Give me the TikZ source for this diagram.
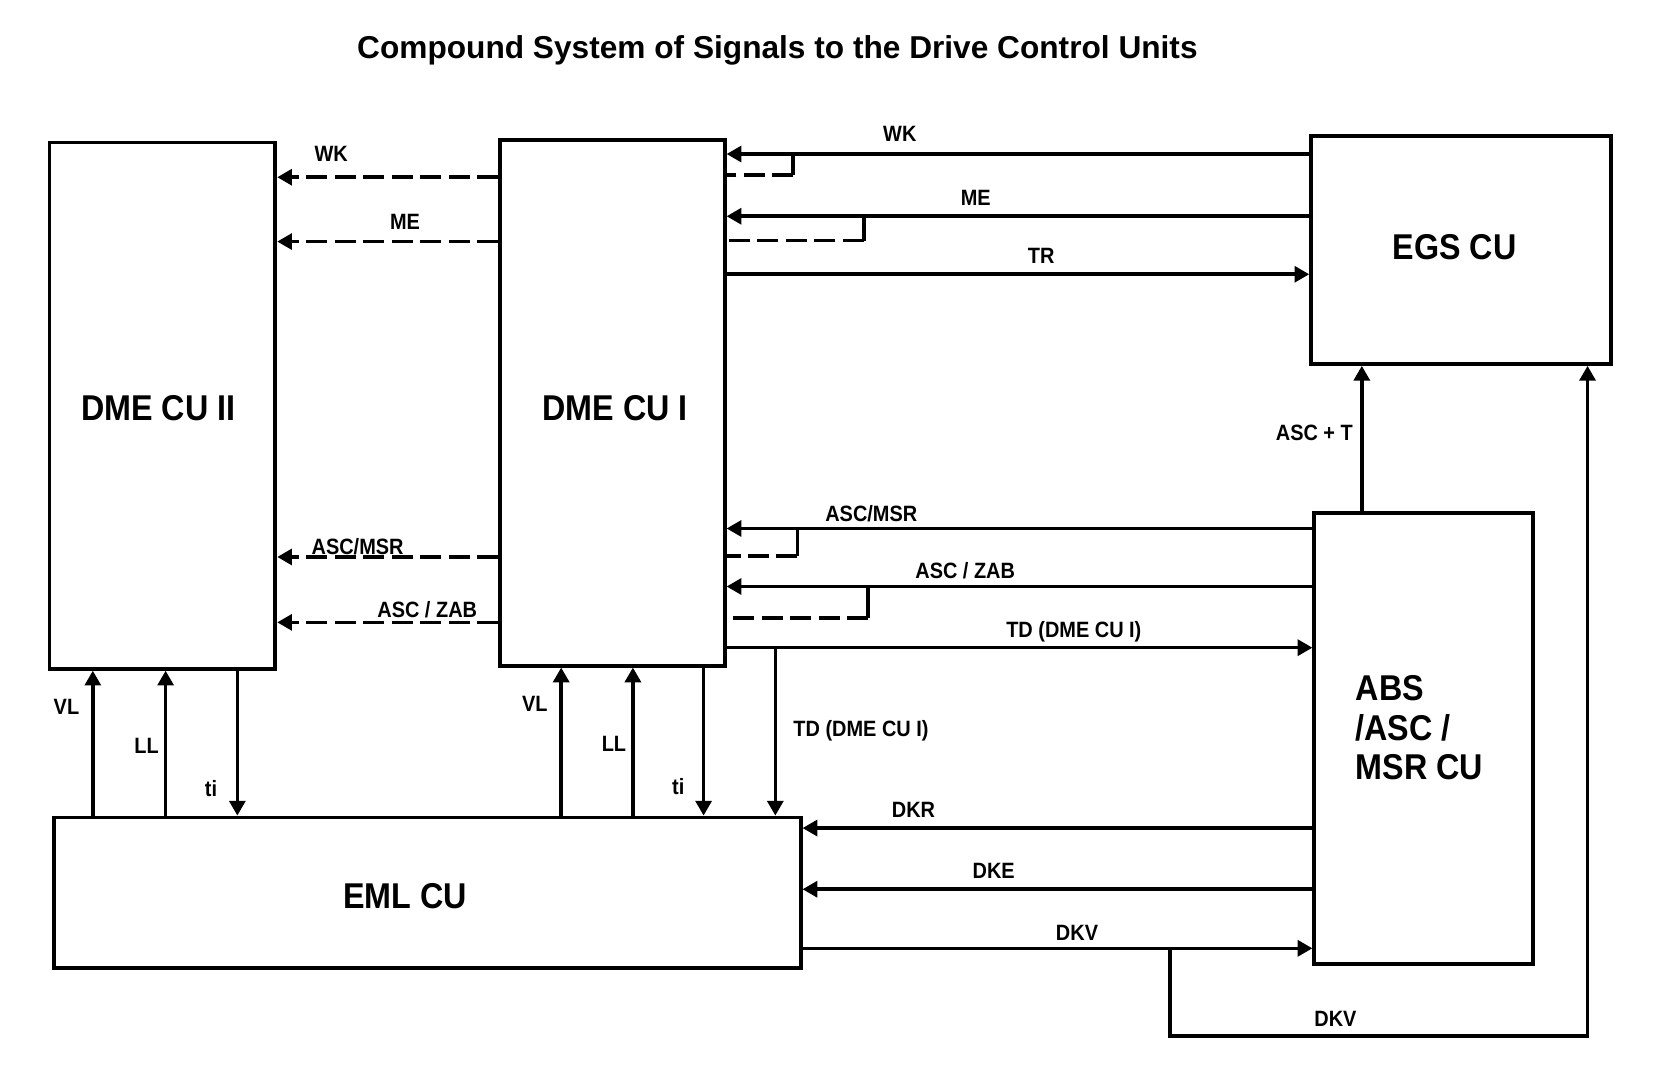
\documentclass[tikz,border=0pt]{standalone}
\usepackage{fontspec}
\setmainfont{Liberation Sans}[FakeStretch=0.9]
\newfontfamily\titlefam{Liberation Sans}
\usetikzlibrary{arrows.meta}
\tikzset{
  box/.style={draw, line width=3.6pt, inner sep=0pt, font=\fontsize{34}{37}\selectfont\bfseries},
  ln/.style={line width=3.4pt},
  tip/.style={-{Triangle[length=14pt,width=15pt]}},
  arr/.style={ln, tip},
  dln/.style={ln, dash pattern=on 20pt off 7pt},
  dsh/.style={dln, tip},
  lab/.style={font=\fontsize{21}{23}\selectfont\bfseries, inner sep=0pt},
}
\begin{document}
\begin{tikzpicture}[x=1pt,y=-1pt]
\fill[white] (0,0) rectangle (1568,1031);
\useasboundingbox (0,0) rectangle (1568,1031);

% title
\node[font=\titlefam\fontsize{30}{32}\selectfont\bfseries] (title) at (737,48) {Compound System of Signals to the Drive Control Units};

% boxes
\node[box, minimum width=214pt, minimum height=499pt] (dme2) at (154,384.5) {};
\node[box, minimum width=213pt, minimum height=498pt] (dme1) at (580.5,382) {};
\node[box, minimum width=284pt, minimum height=216pt] (egs) at (1385,237) {};
\node[box, minimum width=207pt, minimum height=428pt] (abs) at (1349.5,700) {};
\node[box, minimum width=708pt, minimum height=143pt] (eml) at (405,846.5) {};
\tikzset{btxt/.style={font=\fontsize{34}{37.5}\selectfont\bfseries, inner sep=0pt}}
\node[btxt] (dme2txt) at (150,387) {DME CU II};
\node[btxt] (dme1txt) at (583,387) {DME CU I};
\node[btxt] (egstxt) at (1379,234) {EGS CU};
\node[btxt, align=left, anchor=west] (abstxt) at (1285,690) {ABS\\/ASC /\\MSR CU};
\node[btxt] (emltxt) at (384,850) {EML CU};

% DME CU I -> DME CU II (dashed)
\draw[dsh] (dme1.west |- 0,168) -- (dme2.east |- 0,168);
\draw[dsh] (dme1.west |- 0,229) -- (dme2.east |- 0,229);
\draw[dsh] (dme1.west |- 0,528) -- (dme2.east |- 0,528);
\draw[dsh] (dme1.west |- 0,590) -- (dme2.east |- 0,590);
\node[lab] (lwk2) at (314,146) {WK};
\node[lab] (lme2) at (384,210) {ME};
\node[lab] (lam2) at (339,518) {ASC/MSR};
\node[lab] (laz2) at (405,578) {ASC / ZAB};

% EGS CU <-> DME CU I
\draw[arr] (egs.west |- 0,146) -- (dme1.east |- 0,146);
\coordinate (bwk) at (752,146);
\draw[ln] (bwk) -- (752,166);
\draw[dln] (752,166) -- (dme1.east |- 0,166);
\draw[arr] (egs.west |- 0,205) -- (dme1.east |- 0,205);
\coordinate (bme) at (819,205);
\draw[ln] (bme) -- (819,228);
\draw[dln] (819,228) -- (dme1.east |- 0,228);
\draw[arr] (dme1.east |- 0,260) -- (egs.west |- 0,260);
\node[lab] (lwk1) at (853,127) {WK};
\node[lab] (lme1) at (925,188) {ME};
\node[lab] (ltr) at (987,243) {TR};

% ABS <-> DME CU I
\draw[arr] (abs.west |- 0,501) -- (dme1.east |- 0,501);
\coordinate (bam) at (756,501);
\draw[ln] (bam) -- (756,527);
\draw[dln] (756,527) -- (dme1.east |- 0,527);
\draw[arr] (abs.west |- 0,556) -- (dme1.east |- 0,556);
\coordinate (baz) at (823,556);
\draw[ln] (baz) -- (823,586);
\draw[dln] (823,586) -- (dme1.east |- 0,586);
\draw[arr] (dme1.east |- 0,614) -- (abs.west |- 0,614);
\coordinate (btd) at (735,614);
\draw[arr] (btd) -- (eml.north -| btd);
\node[lab] (lam1) at (826,487) {ASC/MSR};
\node[lab] (laz1) at (915,541) {ASC / ZAB};
\node[lab] (ltd1) at (1018,599) {TD (DME CU I)};
\node[lab, anchor=west] (ltd2) at (752,693) {TD (DME CU I)};

% ABS -> EGS
\draw[arr] (abs.north -| 1291,0) -- (egs.south -| 1291,0);
\node[lab] (lasct) at (1246,410) {ASC + T};

% ABS <-> EML
\draw[arr] (abs.west |- 0,785) -- (eml.east |- 0,785);
\draw[arr] (abs.west |- 0,843) -- (eml.east |- 0,843);
\draw[arr] (eml.east |- 0,899) -- (abs.west |- 0,899);
\coordinate (bdkv) at (1109,899);
\draw[arr] (bdkv) |- (1505,982) -- (egs.south -| 1505,0);
\node[lab] (ldkr) at (866,768) {DKR};
\node[lab] (ldke) at (942,826) {DKE};
\node[lab] (ldkv) at (1021,884) {DKV};
\node[lab] (ldkv2) at (1266,966) {DKV};

% EML <-> DME CU II
\draw[arr] (eml.north -| 88,0) -- (dme2.south -| 88,0);
\draw[arr] (eml.north -| 157,0) -- (dme2.south -| 157,0);
\draw[arr] (dme2.south -| 225,0) -- (eml.north -| 225,0);
\node[lab] (lvl2) at (63,670) {VL};
\node[lab] (lll2) at (139,707) {LL};
\node[lab] (lti2) at (200,748) {ti};

% EML <-> DME CU I
\draw[arr] (eml.north -| 532,0) -- (dme1.south -| 532,0);
\draw[arr] (eml.north -| 600,0) -- (dme1.south -| 600,0);
\draw[arr] (dme1.south -| 667,0) -- (eml.north -| 667,0);
\node[lab] (lvl1) at (507,667) {VL};
\node[lab] (lll1) at (582,705) {LL};
\node[lab] (lti1) at (643,746) {ti};
\end{tikzpicture}
\end{document}
